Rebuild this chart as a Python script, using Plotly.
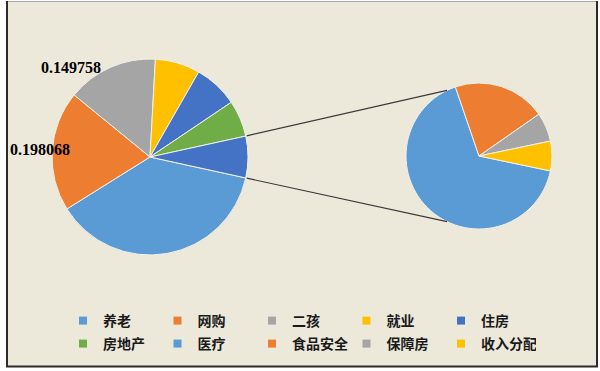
import math
import plotly.graph_objects as go

W, H = 600, 371

# Share of each topic in the primary pie
main_labels = ["养老", "网购", "二孩", "就业", "住房", "房地产"]
main_values = [0.377, 0.198068, 0.149758, 0.074, 0.073, 0.060]

# Topics grouped into the secondary pie
sub_labels = ["医疗", "食品安全", "保障房", "收入分配"]
sub_values = [0.0456, 0.0141, 0.0044, 0.0045]

# Slices that carry a value label
labelled = ["二孩", "网购"]

palette = ["#5B9BD5", "#ED7D31", "#A5A5A5", "#FFC000", "#4472C4", "#70AD47"]
other_color = "#4472C4"
bg = "#ECE9DB"
slice_edge = "#F3F1EA"

# pie placement in pixels (center x, center y, radius)
MAIN = (150, 157, 98)
SUB = (479, 156, 73)
SUB_ATTACH = 116  # degrees from 3 o'clock where connectors meet the secondary pie
PER_ROW = 5


def px_x(x):
    return x / W


def px_y(y):
    return 1 - y / H


def domain(c):
    cx, cy, r = c
    return dict(x=[px_x(cx - r), px_x(cx + r)], y=[px_y(cy + r), px_y(cy - r)])


other_value = sum(sub_values)
main_all = main_values + [other_value]
total = sum(main_all)
other_frac = other_value / total

fig = go.Figure()

# primary pie: the grouped slice is centred at 3 o'clock
fig.add_trace(go.Pie(
    labels=main_labels + ["其他"],
    values=main_all,
    sort=False,
    direction="clockwise",
    rotation=90 + 180 * other_frac,
    marker=dict(colors=palette + [other_color], line=dict(color=slice_edge, width=1)),
    textinfo="none",
    hoverinfo="label+value",
    showlegend=False,
    domain=domain(MAIN),
))

sub_total = sum(sub_values)
fig.add_trace(go.Pie(
    labels=sub_labels,
    values=sub_values,
    sort=False,
    direction="clockwise",
    rotation=90 + 180 * sub_values[-1] / sub_total,
    marker=dict(colors=palette[:len(sub_values)], line=dict(color=slice_edge, width=1)),
    textinfo="none",
    hoverinfo="label+value",
    showlegend=False,
    domain=domain(SUB),
))

# legend entries, five per row (one legend box per row)
legend_labels = main_labels + sub_labels
legend_colors = palette + palette[:len(sub_labels)]
for i, (name, col) in enumerate(zip(legend_labels, legend_colors)):
    fig.add_trace(go.Scatter(
        x=[None], y=[None], mode="markers", name=name,
        legend="legend" if i < PER_ROW else "legend2",
        marker=dict(symbol="square", size=8, color=col),
    ))

# connector lines from the grouped slice to the secondary pie
cx, cy, r = MAIN
sx, sy, sr = SUB
shapes = [
    dict(type="rect", xref="paper", yref="paper",
         x0=px_x(6), x1=px_x(598), y0=px_y(367), y1=px_y(1),
         fillcolor=bg, line=dict(width=0), layer="below"),
    dict(type="line", xref="paper", yref="paper",
         x0=px_x(6), x1=px_x(598), y0=px_y(1.5), y1=px_y(1.5),
         line=dict(color="#A8A8A8", width=1)),
    dict(type="line", xref="paper", yref="paper",
         x0=px_x(7), x1=px_x(7), y0=px_y(1), y1=px_y(367),
         line=dict(color="#2B2B2B", width=2)),
    dict(type="line", xref="paper", yref="paper",
         x0=px_x(597), x1=px_x(597), y0=px_y(1), y1=px_y(367),
         line=dict(color="#2B2B2B", width=2)),
    dict(type="line", xref="paper", yref="paper",
         x0=px_x(6), x1=px_x(598), y0=px_y(366.5), y1=px_y(366.5),
         line=dict(color="#2B2B2B", width=2)),
]
for sign in (-1, 1):
    a = math.radians(90 + sign * 180 * other_frac)
    b = math.radians(90 + sign * SUB_ATTACH)
    x0, y0 = cx + (r + 1) * math.sin(a), cy - (r + 1) * math.cos(a)
    x1, y1 = sx + sr * math.sin(b), sy - sr * math.cos(b)
    shapes.append(dict(type="line", xref="paper", yref="paper",
                       x0=px_x(x0), y0=px_y(y0), x1=px_x(x1), y1=px_y(y1),
                       line=dict(color="#3A3A3A", width=1.2)))

# value labels
label_pos = {"二孩": (71, 67), "网购": (40, 150)}
annotations = []
for name in labelled:
    v = main_values[main_labels.index(name)]
    x, y = label_pos[name]
    annotations.append(dict(
        x=px_x(x), y=px_y(y), xref="paper", yref="paper", showarrow=False,
        text=f"{v:g}", xanchor="center", yanchor="middle",
        font=dict(family="Liberation Serif", size=16, color="#000000", weight="bold"),
    ))

legend_style = dict(
    orientation="h", x=px_x(63), xanchor="left", yanchor="top",
    bgcolor="rgba(0,0,0,0)", entrywidth=49.5, entrywidthmode="pixels",
    font=dict(family="Noto Sans CJK SC", size=14, color="#1A1A1A", weight="bold"),
    traceorder="normal", itemclick=False, itemdoubleclick=False,
)

fig.update_layout(
    width=W, height=H,
    margin=dict(l=0, r=0, t=0, b=0),
    paper_bgcolor="#FFFFFF",
    plot_bgcolor="rgba(0,0,0,0)",
    xaxis=dict(visible=False),
    yaxis=dict(visible=False),
    shapes=shapes,
    annotations=annotations,
    showlegend=True,
    legend=dict(legend_style, y=px_y(305)),
    legend2=dict(legend_style, y=px_y(328)),
)

fig.write_html("out.html")
